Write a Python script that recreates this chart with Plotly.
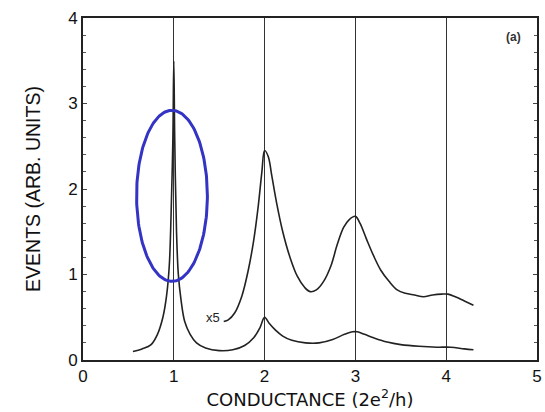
import plotly.graph_objects as go
import numpy as np

# measured curve (lower)
g_low = [0.55, 0.65, 0.75, 0.82, 0.88, 0.92, 0.95, 0.97, 0.99, 1.0, 1.01, 1.03, 1.05, 1.08, 1.12, 1.18, 1.25,
         1.35, 1.5, 1.65, 1.78, 1.88, 1.95, 2.0, 2.05, 2.12, 2.2, 2.3, 2.45, 2.6, 2.75, 2.88, 2.97, 3.02,
         3.1, 3.2, 3.35, 3.5, 3.7, 3.9, 4.05, 4.2, 4.3]
n_low = [0.1, 0.13, 0.18, 0.3, 0.5, 0.75, 1.1, 1.7, 2.6, 3.5, 2.6, 1.5, 1.0, 0.7, 0.45, 0.3, 0.2,
         0.14, 0.11, 0.12, 0.17, 0.26, 0.38, 0.5, 0.43, 0.35, 0.28, 0.23, 0.2, 0.2, 0.24, 0.3, 0.33, 0.33,
         0.3, 0.26, 0.21, 0.18, 0.16, 0.15, 0.15, 0.13, 0.12]

# same data multiplied by 5 (upper)
g_x5 = [1.55, 1.6, 1.67, 1.75, 1.82, 1.88, 1.93, 1.97, 2.0, 2.04, 2.08, 2.13, 2.2, 2.28, 2.36, 2.44,
        2.5, 2.57, 2.65, 2.73, 2.8, 2.87, 2.93, 3.0, 3.05, 3.12, 3.2, 3.28, 3.37, 3.46, 3.55, 3.65,
        3.75, 3.85, 3.95, 4.02, 4.1, 4.2, 4.3]
n_x5 = [0.45, 0.47, 0.55, 0.75, 1.05, 1.4, 1.8, 2.2, 2.45, 2.38, 2.15, 1.85, 1.5, 1.2, 0.98, 0.85,
        0.8, 0.82, 0.92, 1.1, 1.35, 1.55, 1.64, 1.68, 1.6, 1.42, 1.22, 1.05, 0.92, 0.82, 0.78, 0.76,
        0.74, 0.76, 0.77, 0.77, 0.74, 0.69, 0.64]

# highlight ellipse (center and radii in data units)
ell_cx, ell_cy, ell_rx, ell_ry = 0.98, 1.92, 0.39, 1.0

fig = go.Figure()

t = np.linspace(0, 2 * np.pi, 200)
fig.add_trace(go.Scatter(x=g_low, y=n_low, mode='lines', line=dict(color='#222', width=1.6, shape='spline'),
                         showlegend=False))
fig.add_trace(go.Scatter(x=g_x5, y=n_x5, mode='lines', line=dict(color='#222', width=1.6, shape='spline'),
                         showlegend=False))
fig.add_trace(go.Scatter(x=ell_cx + ell_rx * np.cos(t), y=ell_cy + ell_ry * np.sin(t), mode='lines',
                         line=dict(color='#3333c4', width=3), showlegend=False))

fig.add_annotation(x=1.33, y=0.5, text='x5', showarrow=False, xanchor='left',
                   font=dict(family='Liberation Sans, Arial', size=13, color='#222'))
fig.add_annotation(x=0.97, y=0.97, xref='paper', yref='paper', text='<b>(a)</b>', showarrow=False,
                   xanchor='right', yanchor='top', font=dict(family='Liberation Sans, Arial', size=12, color='#333'))

axis_font = dict(family='Liberation Sans, Arial', size=17, color='#111')
fig.update_xaxes(range=[0, 5], dtick=1, showgrid=True, gridcolor='#333', gridwidth=1.3,
                 showline=True, linecolor='#222', linewidth=2, mirror=True, ticks='',
                 zeroline=False, tickfont=axis_font,
                 title=dict(text='CONDUCTANCE (2e<sup>2</sup>/h)', font=dict(family='DejaVu Sans', size=18, color='#111'), standoff=3))
fig.update_yaxes(range=[0, 4], dtick=1, showgrid=False, showline=True, linecolor='#222', linewidth=2,
                 mirror='ticks', ticks='inside', ticklen=4, tickcolor='#444',
                 minor=dict(dtick=0.2, ticks='inside', ticklen=3, tickcolor='#555'),
                 zeroline=False, tickfont=axis_font,
                 title=dict(text='EVENTS (ARB. UNITS)', font=dict(family='Liberation Sans, Arial', size=19.5, color='#111'), standoff=22))

fig.update_layout(width=545, height=412, margin=dict(l=83, r=3, t=18, b=52),
                  plot_bgcolor='white', paper_bgcolor='white')

fig.write_html("out.html", config={'displayModeBar': False}, post_script="document.body.style.margin='0';")
